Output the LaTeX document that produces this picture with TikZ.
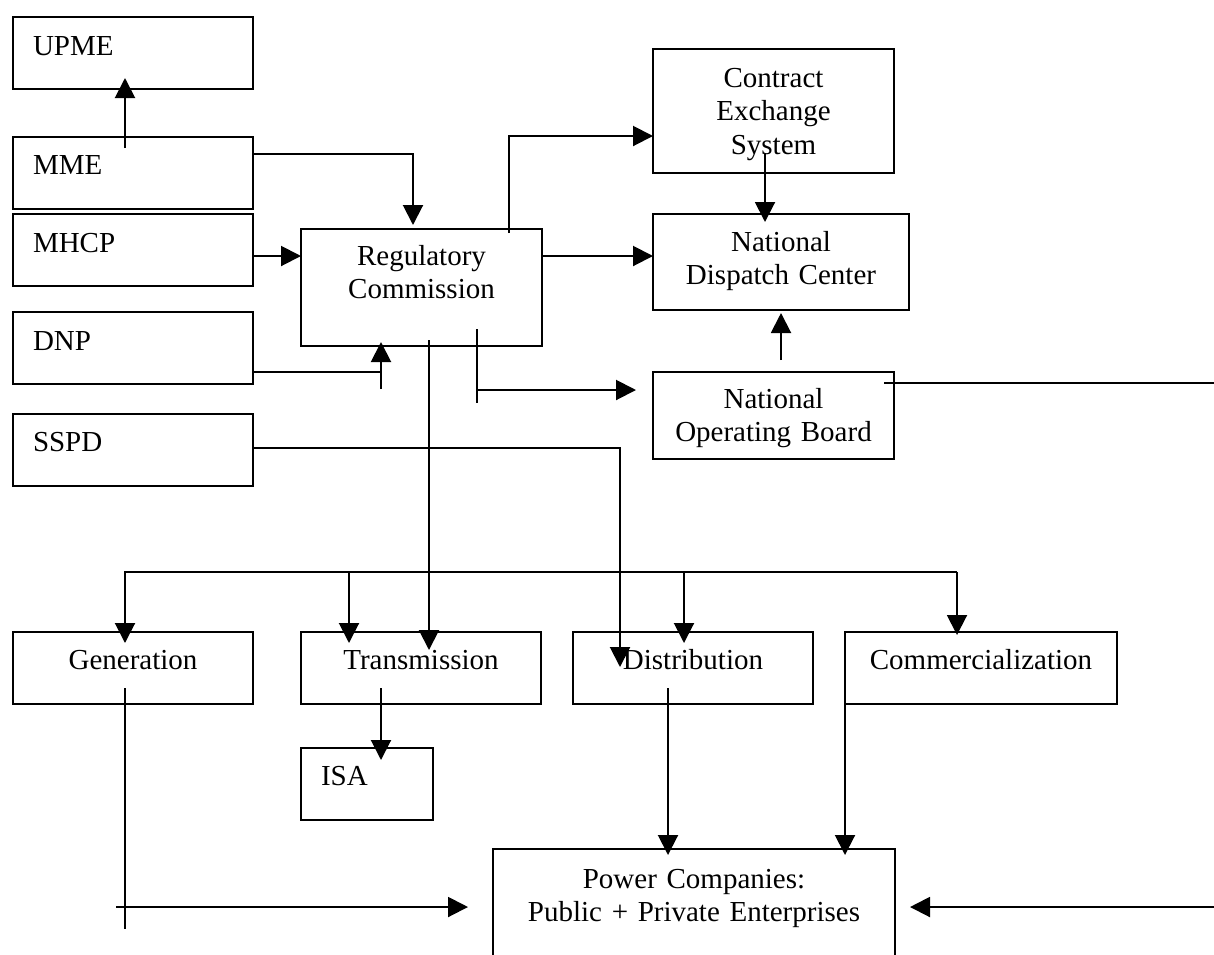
\documentclass[tikz,border=0pt]{standalone}
\usepackage{fontspec}
\setmainfont{Liberation Serif}
\usepackage{tikz}
\usetikzlibrary{calc,arrows.meta}

\begin{document}
\begin{tikzpicture}[x=1pt,y=-1pt,line width=2pt,
  every node/.style={font=\fontsize{29}{33.5}\selectfont},
  box/.style={draw,inner xsep=0pt,inner ysep=0pt,outer sep=0pt,align=center,anchor=north west},
  lbox/.style={box,align=left,inner xsep=20pt,text width=200pt,text height=38pt,text depth=34pt},
  arr/.style={-{Triangle[length=20pt,width=20pt]}}]

\useasboundingbox (0,0) rectangle (1214,954);

\node [lbox] (upme) at (13,17) {UPME};
\node [lbox,text height=37pt,text depth=35pt] (mme) at (13,137) {MME};
\node [lbox] (mhcp) at (13,214) {MHCP};
\node [lbox] (dnp) at (13,312) {DNP};
\node [lbox,text height=37pt,text depth=35pt] (sspd) at (13,414) {SSPD};

\node [box,text width=241pt,text height=36pt,text depth=81pt] (reg) at (301,229) {Regulatory\\Commission};
\node [box,text width=241pt,text height=38pt,text depth=86pt] (ces) at (653,49) {Contract\\Exchange\\System};
\node [box,text width=256pt,text height=37pt,text depth=59pt] (ndc) at (653,214) {National\\Dispatch Center};
\node [box,text width=241pt,text height=36pt,text depth=51pt] (nob) at (653,372) {National\\Operating Board};

\node [box,text width=240pt,text height=37pt,text depth=35pt] (gen) at (13,632) {Generation};
\node [box,text width=240pt,text height=37pt,text depth=35pt] (trans) at (301,632) {Transmission};
\node [box,text width=240pt,text height=37pt,text depth=35pt] (dist) at (573,632) {Distribution};
\node [box,text width=272pt,text height=37pt,text depth=35pt] (comm) at (845,632) {Commercialization};
\node [lbox,text width=92pt,text height=37pt,text depth=35pt] (isa) at (301,748) {ISA};
\node [box,text width=402pt,text height=39pt,text depth=100pt] (power) at (493,849) {Power Companies:\\Public + Private Enterprises};

\coordinate (east1) at (1214,383);
\coordinate (east2) at (1214,907);

\draw [arr] ($(mme.north)+(-8,11)$) -- ($(upme.south)+(-8,-11)$);
\draw [arr] ($(mme.east)+(0,-19)$) -| ($(reg.north)+(-8.5,-4)$);
\draw [arr] ($(mhcp.east)+(0,6)$) -- ($(reg.west)+(0,-31.5)$);
\draw ($(dnp.east)+(0,24)$) -- ($(reg.south)+(-40.5,26)$);
\draw [arr] ($(reg.south)+(-40.5,43)$) -- ($(reg.south)+(-40.5,-4)$);

\draw [arr] ($(reg.north)+(87.5,4)$) |- ($(ces.west)+(0,25)$);
\draw [arr] ($(reg.east)+(0,-31.5)$) -- ($(ndc.west)+(0,-6)$);
\draw ($(reg.south)+(55.5,-17)$) -- ($(reg.south)+(55.5,57)$);
\draw [arr] ($(reg.south)+(55.5,44)$) -- ($(nob.west)+(-17,-25.5)$);
\draw [arr] ($(reg.south)+(7.5,-6)$) -- ($(trans.north)+(8,18)$);
\draw [arr] ($(sspd.east)+(0,-2)$) -| ($(dist.north)+(-73,35)$);

\draw [arr] ($(ces.south)+(-8.5,-20)$) -- ($(ndc.north)+(-16,8)$);
\draw [arr] ($(nob.north)+(7.5,-12)$) -- ($(ndc.south)+(0,3)$);
\draw ($(nob.north east)+(-10,11)$) -- (east1);

\draw [arr] ($(comm.north)+(-24,-60)$) -| ($(gen.north)+(-8,11)$);
\foreach \n/\dx/\dy in {trans/-72/11, dist/-9/11, comm/-24/3}
  \draw [arr] ($(\n.north)+(\dx,-60)$) -- ($(\n.north)+(\dx,\dy)$);

\draw [arr] ($(trans.south)+(-40,-16)$) -- ($(isa.north)+(14,12)$);
\draw ($(gen.south)+(-8,-16)$) -- ($(gen.south)+(-8,225)$);
\draw [arr] ($(gen.south)+(-17,203)$) -- ($(power.north west)+(-25,58)$);
\draw [arr] ($(dist.south)+(-25,-16)$) -- ($(power.north)+(-26,6)$);
\draw [arr] (comm.south west) -- ($(power.north)+(151,6)$);
\draw [arr] (east2) -- ($(power.north east)+(15,58)$);

\end{tikzpicture}
\end{document}
